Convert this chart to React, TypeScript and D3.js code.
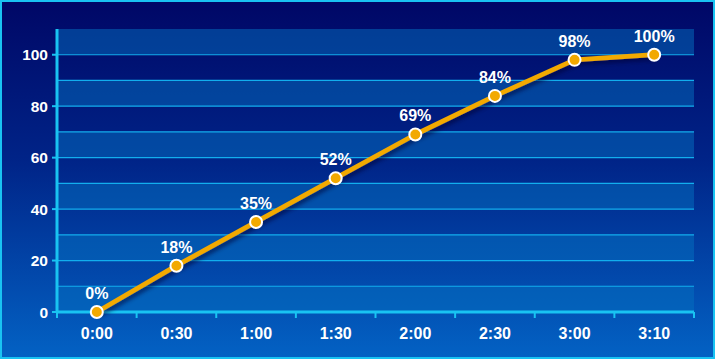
import React from 'react';
import * as d3 from 'd3';

const categories = ['0:00', '0:30', '1:00', '1:30', '2:00', '2:30', '3:00', '3:10'];
const values = [0, 18, 35, 52, 69, 84, 98, 100];
const yTicks = [0, 20, 40, 60, 80, 100];
const bandStarts = [0, 20, 40, 60, 80, 100];
const gridValues = [10, 20, 30, 40, 50, 60, 70, 80, 90, 100];

const width = 715;
const height = 359;
const marginTop = 29;
const marginRight = 21;
const marginBottom = 47;
const marginLeft = 57;

const App = () => {
  const x = d3.scaleBand()
    .domain(categories)
    .range([marginLeft, width - marginRight]);

  const y = d3.scaleLinear()
    .domain([0, 110])
    .range([height - marginBottom, marginTop]);

  const cx = (c: string) => (x(c) ?? 0) + x.bandwidth() / 2;

  const line = d3.line<number>()
    .x((_, i) => cx(categories[i]))
    .y(d => y(d));

  const font = 'Arial, "Liberation Sans", Helvetica, sans-serif';
  const axisColor = '#19c3f2';

  return (
    <svg width={width} height={height} style={{ display: 'block', position: 'absolute', left: 0, top: 0 }}>
      <defs>
        <linearGradient id="bg" x1="0" y1="0" x2="0" y2="1">
          <stop offset="0%" stopColor="#000766" />
          <stop offset="45%" stopColor="#002488" />
          <stop offset="100%" stopColor="#0362c4" />
        </linearGradient>
        <filter id="shadow" x="-10%" y="-10%" width="120%" height="130%">
          <feDropShadow dx="2" dy="3" stdDeviation="2" floodColor="#000030" floodOpacity="0.6" />
        </filter>
      </defs>
      <rect x={1} y={1} width={width - 2} height={height - 2} fill="url(#bg)" stroke={axisColor} strokeWidth={2} />

      {bandStarts.map(b => (
        <rect key={b}
          x={marginLeft} width={width - marginRight - marginLeft}
          y={y(b + 10)} height={y(b) - y(b + 10)}
          fill="#0470c0" fillOpacity={0.5} />
      ))}

      {gridValues.map(g => (
        <line key={g} x1={marginLeft} x2={width - marginRight} y1={y(g)} y2={y(g)}
          stroke="#12aeee" strokeWidth={1.2} />
      ))}

      {/* Y axis */}
      <line x1={marginLeft} x2={marginLeft} y1={marginTop} y2={y(0) + 1} stroke={axisColor} strokeWidth={3} />
      {yTicks.map(t => (
        <g key={t}>
          <line x1={marginLeft - 5} x2={marginLeft} y1={y(t)} y2={y(t)} stroke={axisColor} strokeWidth={2} />
          <text x={marginLeft - 9} y={y(t)} dy="0.36em" textAnchor="end" fill="#fff"
            fontFamily={font} fontWeight="bold" fontSize={15.5}>{t}</text>
        </g>
      ))}

      {/* X axis */}
      <line x1={marginLeft} x2={width - marginRight} y1={y(0)} y2={y(0)} stroke={axisColor} strokeWidth={3} />
      {[...categories.map(c => x(c) ?? 0), width - marginRight].map((p, i) => (
        <line key={i} x1={p} x2={p} y1={y(0)} y2={y(0) + 6} stroke={axisColor} strokeWidth={2} />
      ))}
      {categories.map(c => (
        <text key={c} x={cx(c)} y={y(0) + 27} textAnchor="middle" fill="#fff"
          fontFamily={font} fontWeight="bold" fontSize={16}>{c}</text>
      ))}

      <path d={line(values) ?? ''} fill="none" stroke="#f2a900" strokeWidth={4.8}
        strokeLinejoin="round" filter="url(#shadow)" />

      {values.map((v, i) => (
        <g key={i}>
          <circle cx={cx(categories[i])} cy={y(v)} r={6} fill="#f2a900" stroke="#fff" strokeWidth={2} />
          <text x={cx(categories[i])} y={y(v) - 13} textAnchor="middle" fill="#fff"
            fontFamily={font} fontWeight="bold" fontSize={16}>{v}%</text>
        </g>
      ))}
    </svg>
  );
};

export default App;
